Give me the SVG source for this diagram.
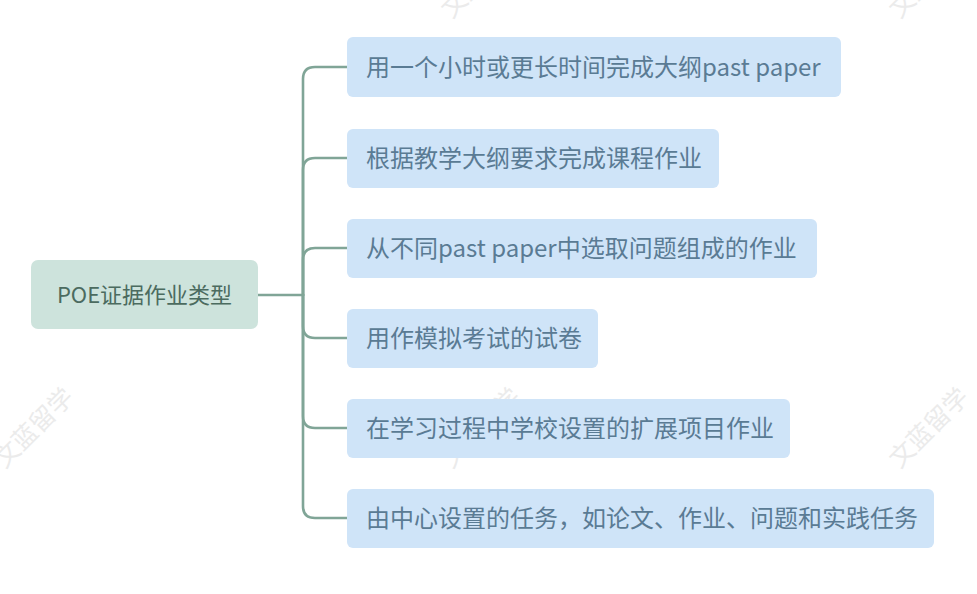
<svg xmlns="http://www.w3.org/2000/svg" width="977" height="594" viewBox="0 0 977 594">
<style>
.wm{font-family:"Noto Sans CJK SC","Noto Sans",sans-serif;font-size:25px;fill:#ebebeb;text-anchor:middle}
.box{fill:#cfe4f8}
.root{fill:#cde3dc}
.t{font-family:"Noto Sans CJK SC","Noto Sans",sans-serif;font-size:24px;fill:#5a7b94}
.rt{font-family:"Noto Sans CJK SC","Noto Sans",sans-serif;font-size:22px;fill:#4b6b5f;text-anchor:middle}
.c{fill:none;stroke:#80a597;stroke-width:2.6;stroke-linecap:round}
</style>
<rect width="977" height="594" fill="#ffffff"/>
<g id="watermarks">
<text class="wm" transform="translate(40,434) rotate(-45)">文蓝留学</text>
<text class="wm" transform="translate(487,434) rotate(-45)">文蓝留学</text>
<text class="wm" transform="translate(935,434) rotate(-45)">文蓝留学</text>
<text class="wm" transform="translate(487,-16) rotate(-45)">文蓝留学</text>
<text class="wm" transform="translate(935,-16) rotate(-45)">文蓝留学</text>
</g>
<g id="connectors">
<path class="c" d="M258,295 H303"/>
<path class="c" d="M303,295 V79 Q303,67 315,67 H347"/>
<path class="c" d="M303,295 V170 Q303,158 315,158 H347"/>
<path class="c" d="M303,295 V260 Q303,248 315,248 H347"/>
<path class="c" d="M303,295 V326 Q303,338 315,338 H347"/>
<path class="c" d="M303,295 V416 Q303,428 315,428 H347"/>
<path class="c" d="M303,295 V506 Q303,518 315,518 H347"/>
</g>
<g id="root">
<rect class="root" x="31" y="260" width="227" height="69" rx="7"/>
<text class="rt" x="144.5" y="303">POE证据作业类型</text>
</g>
<g id="n1">
<rect class="box" x="347" y="37" width="494" height="60" rx="6"/>
<text class="t" x="366" y="75.5">用一个小时或更长时间完成大纲past paper</text>
</g>
<g id="n2">
<rect class="box" x="347" y="129" width="372" height="59" rx="6"/>
<text class="t" x="366" y="167">根据教学大纲要求完成课程作业</text>
</g>
<g id="n3">
<rect class="box" x="347" y="219" width="470" height="59" rx="6"/>
<text class="t" x="366" y="257">从不同past paper中选取问题组成的作业</text>
</g>
<g id="n4">
<rect class="box" x="347" y="309" width="251" height="59" rx="6"/>
<text class="t" x="366" y="347">用作模拟考试的试卷</text>
</g>
<g id="n5">
<rect class="box" x="347" y="399" width="443" height="59" rx="6"/>
<text class="t" x="366" y="437">在学习过程中学校设置的扩展项目作业</text>
</g>
<g id="n6">
<rect class="box" x="347" y="489" width="587" height="59" rx="6"/>
<text class="t" x="366" y="527">由中心设置的任务，如论文、作业、问题和实践任务</text>
</g>
</svg>
